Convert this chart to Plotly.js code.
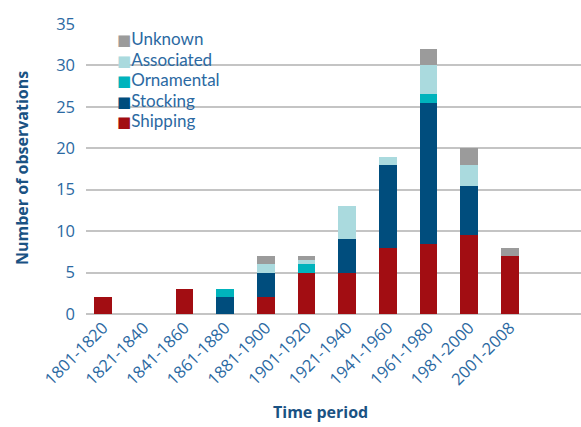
<!DOCTYPE html>
<html><head><meta charset="utf-8">
<script src="https://cdn.plot.ly/plotly-3.0.1.min.js"></script>
<style>html,body{margin:0;padding:0;background:#fff}</style>
</head><body><div id="chart" style="width:581px;height:427px"></div>
<script>
const periods = ["1801-1820","1821-1840","1841-1860","1861-1880","1881-1900","1901-1920","1921-1940","1941-1960","1961-1980","1981-2000","2001-2008"];
const shipping   = [2, 0, 3, 0, 2, 5, 5, 8, 8.5, 9.5, 7];
const stocking   = [0, 0, 0, 2, 3, 0, 4, 10, 17, 6, 0];
const ornamental = [0, 0, 0, 1, 0, 1, 0, 0, 1, 0, 0];
const associated = [0, 0, 0, 0, 1, 0.5, 4, 1, 3.5, 2.5, 0];
const unknown    = [0, 0, 0, 0, 1, 0.5, 0, 0, 2, 2, 1];

const series = [
  {name: "Shipping", y: shipping, color: "#a20d12"},
  {name: "Stocking", y: stocking, color: "#004d7d"},
  {name: "Ornamental", y: ornamental, color: "#00b3bc"},
  {name: "Associated", y: associated, color: "#aadade"},
  {name: "Unknown", y: unknown, color: "#9b9b9b"}
];
const textColor = "#2b69a2";
const titleColor = "#1a5283";
const font = "'Open Sans', 'Noto Sans', sans-serif";

// plot-area geometry (pixels)
const W = 581, H = 427, L = 86, R = 0, T = 24, B = 113;
const pw = W - L - R, ph = H - T - B;
const px = x => (x - L) / pw;
const py = y => 1 - (y - T) / ph;

const data = series.map(s => ({
  type: "bar", name: s.name, x: periods, y: s.y,
  marker: {color: s.color, line: {width: 0}},
  hoverinfo: "skip", showlegend: false
}));

// legend drawn as one text block (top entry = last series)
const legendText = series.slice().reverse().map(s =>
  '<span style="color:' + s.color + ';font-family:DejaVu Sans;font-size:15px">■</span>' +
  '<span style="font-size:17px">' + s.name + '</span>'
).join('<br>');

const annotations = [
  {
    xref: "paper", yref: "paper", x: px(116), y: py(27),
    xanchor: "left", yanchor: "top", align: "left", showarrow: false, borderpad: 0,
    text: legendText, font: {size: 15.8, color: textColor, family: "Lato, 'Open Sans', sans-serif"}
  },
  {
    xref: "paper", yref: "paper", x: px(320), y: py(412),
    xanchor: "center", yanchor: "middle", showarrow: false,
    text: "<b>Time period</b>", font: {size: 16, color: titleColor, family: font}
  },
  {
    xref: "paper", yref: "paper", x: px(22), y: py(168), textangle: -90,
    xanchor: "center", yanchor: "middle", showarrow: false,
    text: "<b>Number of observations</b>", font: {size: 16, color: titleColor, family: font}
  }
];

const layout = {
  width: W, height: H,
  margin: {l: L, r: R, t: T, b: B},
  barmode: "stack", bargap: 0.57,
  paper_bgcolor: "#fff", plot_bgcolor: "#fff",
  font: {family: font, color: textColor, size: 16},
  showlegend: false,
  xaxis: {
    type: "category", range: [-0.42, 11.75],
    tickangle: -45, ticks: "", showgrid: false,
    showline: false, zeroline: false,
    tickfont: {size: 16.5, color: textColor}
  },
  yaxis: {
    range: [0, 35], tickvals: [0,5,10,15,20,25,30,35],
    showgrid: true, gridcolor: "#c4c4c4", gridwidth: 2,
    zeroline: true, zerolinecolor: "#c4c4c4", zerolinewidth: 2,
    ticks: "", ticklabelstandoff: 10,
    tickfont: {size: 16.5, color: textColor}
  },
  annotations: annotations
};
Plotly.newPlot("chart", data, layout, {staticPlot: true, displayModeBar: false});
</script></body></html>
